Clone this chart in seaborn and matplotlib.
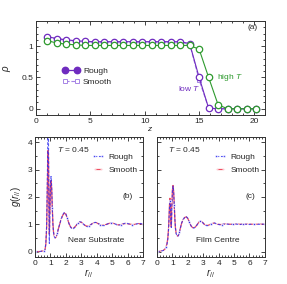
import numpy as np
import pandas as pd
import matplotlib
matplotlib.use("Agg")
import matplotlib.pyplot as plt
from matplotlib.ticker import MultipleLocator
from matplotlib.lines import Line2D
import seaborn as sns

# ---------------- data: panel (a) density profiles ----------------
z = [1.05, 1.92, 2.79, 3.66, 4.53, 5.40, 6.27, 7.14, 8.01, 8.88, 9.75, 10.62,
     11.49, 12.36, 13.23, 14.10, 14.97, 15.84, 16.71, 17.58, 18.45, 19.32, 20.19]
rho_lowT_rough = [1.15, 1.12, 1.10, 1.085, 1.075, 1.07, 1.07, 1.07, 1.07, 1.07, 1.07, 1.07,
                  1.07, 1.07, 1.07, 1.04, 0.50, 0.01, 0.0, 0.0, 0.0, 0.0, 0.0]
rho_lowT_smooth = [1.145, 1.115, 1.095, 1.08, 1.07, 1.065, 1.065, 1.07, 1.065, 1.07, 1.065, 1.07,
                   1.065, 1.07, 1.065, 1.035, 0.46, 0.01, 0.0, 0.0, 0.0, 0.0, 0.0]
rho_highT = [1.085, 1.05, 1.03, 1.02, 1.01, 1.01, 1.01, 1.01, 1.01, 1.01, 1.01, 1.01,
             1.01, 1.01, 1.01, 1.01, 0.95, 0.50, 0.063, 0.0, 0.0, 0.0, 0.0]

# ---------------- data: panels (b),(c) pair correlation ----------------
r = [0.0, 0.1, 0.2, 0.3, 0.4, 0.5, 0.55, 0.6, 0.65, 0.7, 0.75, 0.78, 0.81, 0.84, 0.87,
     0.9, 0.93, 0.96, 1.0, 1.04, 1.08, 1.12, 1.16, 1.2, 1.25, 1.3, 1.35, 1.4, 1.45, 1.5,
     1.6, 1.7, 1.8, 1.9, 2.0, 2.1, 2.2, 2.3, 2.4, 2.5, 2.6, 2.7, 2.8, 2.9, 3.0, 3.1,
     3.2, 3.3, 3.4, 3.5, 3.6, 3.7, 3.8, 3.9, 4.0, 4.1, 4.2, 4.3, 4.4, 4.5, 4.6, 4.7,
     4.8, 4.9, 5.0, 5.1, 5.2, 5.3, 5.4, 5.5, 5.6, 5.7, 5.8, 5.9, 6.0, 6.1, 6.2, 6.3,
     6.4, 6.5, 6.6, 6.7, 6.8, 6.9, 7.0]

g_sub_rough = [0, 0, 0, 0, 0.01, 0.03, 0.02, 0.03, 0.08, 0.3, 0.9, 1.9, 3.1, 4.5, 4.4,
               1.8, 0.3, 1.3, 2.5, 2.75, 2.4, 1.6, 1.0, 0.7, 0.55, 0.5, 0.52, 0.58, 0.68, 0.8,
               1.0, 1.2, 1.35, 1.43, 1.38, 1.22, 1.03, 0.9, 0.83, 0.84, 0.9, 0.98, 1.05, 1.09, 1.08, 1.03,
               0.97, 0.93, 0.91, 0.93, 0.97, 1.02, 1.05, 1.07, 1.06, 1.03, 0.99, 0.96, 0.95, 0.95, 0.98, 1.01,
               1.04, 1.06, 1.06, 1.04, 1.01, 0.98, 0.97, 0.97, 0.99, 1.01, 1.03, 1.04, 1.03, 1.01, 0.99, 0.98,
               0.98, 0.99, 1.01, 1.03, 1.03, 1.02, 1.0]
g_sub_smooth = [0, 0, 0, 0, 0.01, 0.02, 0.02, 0.03, 0.07, 0.25, 0.8, 1.6, 2.6, 3.7, 3.5,
                1.8, 0.65, 1.3, 2.35, 2.6, 2.3, 1.6, 1.05, 0.72, 0.56, 0.5, 0.52, 0.58, 0.68, 0.8,
                1.0, 1.19, 1.33, 1.41, 1.37, 1.21, 1.03, 0.91, 0.85, 0.86, 0.91, 0.98, 1.04, 1.08, 1.07, 1.03,
                0.98, 0.94, 0.93, 0.94, 0.98, 1.02, 1.04, 1.06, 1.05, 1.02, 0.99, 0.97, 0.96, 0.97, 0.99, 1.01,
                1.03, 1.04, 1.04, 1.03, 1.01, 0.99, 0.98, 0.98, 0.99, 1.01, 1.02, 1.03, 1.02, 1.01, 1.0, 0.99,
                0.99, 1.0, 1.01, 1.02, 1.02, 1.01, 1.0]
g_cen_rough = [0.0, 0.0, 0.01, 0.02, 0.04, 0.08, 0.12, 0.18, 0.28, 0.45, 0.8, 1.2, 1.6, 1.88, 1.85,
               1.2, 0.88, 1.5, 2.2, 2.4, 2.2, 1.7, 1.2, 0.85, 0.65, 0.58, 0.56, 0.6, 0.7, 0.82,
               1.05, 1.18, 1.26, 1.28, 1.22, 1.08, 0.95, 0.87, 0.86, 0.9, 0.98, 1.07, 1.12, 1.1, 1.04, 0.98,
               0.95, 0.95, 0.97, 1.01, 1.04, 1.05, 1.03, 1.01, 0.99, 0.98, 0.99, 1.0, 1.01, 1.01, 1.0, 1.0,
               0.99, 1.0, 1.0, 1.01, 1.0, 1.0, 0.99, 1.0, 1.01, 1.0, 1.0, 1.0, 0.99, 1.0, 1.01, 1.0,
               1.0, 0.99, 1.0, 1.0, 1.01, 1.0, 1.0]
g_cen_smooth = [0.0, 0.0, 0.01, 0.02, 0.04, 0.08, 0.12, 0.19, 0.3, 0.48, 0.85, 1.25, 1.7, 1.95, 1.8,
                1.1, 0.9, 1.55, 2.25, 2.42, 2.2, 1.7, 1.18, 0.84, 0.65, 0.58, 0.57, 0.61, 0.7, 0.82,
                1.04, 1.17, 1.25, 1.27, 1.21, 1.08, 0.95, 0.88, 0.87, 0.91, 0.98, 1.06, 1.11, 1.1, 1.04, 0.98,
                0.96, 0.96, 0.98, 1.01, 1.03, 1.04, 1.03, 1.01, 1.0, 0.99, 0.99, 1.0, 1.0, 1.01, 1.0, 1.0,
                1.0, 1.0, 1.0, 1.0, 1.0, 1.0, 1.0, 1.0, 1.0, 1.0, 1.0, 1.0, 1.0, 1.0, 1.0, 1.0,
                1.0, 1.0, 1.0, 1.0, 1.0, 1.0, 1.0]

# ---------------- styling ----------------
sns.set_style("ticks")
plt.rcParams['font.family'] = ['Liberation Sans', 'DejaVu Sans']
plt.rcParams['mathtext.fontset'] = 'custom'
plt.rcParams['mathtext.it'] = 'Liberation Sans:italic'
plt.rcParams['mathtext.rm'] = 'Liberation Sans'
plt.rcParams['font.size'] = 6

PURPLE = '#6f2bbf'
LPURPLE = '#a784e6'
GREEN = '#2e9a2e'
BLUE = '#2b2bf0'
RED = '#ee3048'
FS = 6

fig = plt.figure(figsize=(2.87, 2.84), dpi=100)
axa = fig.add_axes([0.125, 0.595, 0.798, 0.331])
axb = fig.add_axes([0.122, 0.095, 0.376, 0.423])
axc = fig.add_axes([0.547, 0.095, 0.376, 0.423])


def style_axis(ax):
    ax.tick_params(which='both', direction='in', top=True, right=True,
                   labelsize=FS, width=0.6, pad=2)
    ax.tick_params(which='major', length=3)
    ax.tick_params(which='minor', length=1.6)
    for s in ax.spines.values():
        s.set_linewidth(0.7)
        s.set_color('#333333')


# ---- panel (a)
dfa = pd.DataFrame({'z': z, 'low_r': rho_lowT_rough, 'low_s': rho_lowT_smooth, 'high': rho_highT})
sns.lineplot(data=dfa, x='z', y='low_s', ax=axa, color=LPURPLE, lw=0.8, linestyle='--',
             marker='s', ms=3, mfc='white', mec=LPURPLE, mew=0.7)
sns.lineplot(data=dfa, x='z', y='low_r', ax=axa, color=PURPLE, lw=0.8,
             marker='o', ms=4.6, mfc='white', mec=PURPLE, mew=0.9)
sns.lineplot(data=dfa, x='z', y='high', ax=axa, color=GREEN, lw=0.8,
             marker='o', ms=4.6, mfc='white', mec=GREEN, mew=0.9)
axa.set_xlim(0, 21)
axa.set_ylim(-0.1, 1.4)
axa.xaxis.set_major_locator(MultipleLocator(5))
axa.xaxis.set_minor_locator(MultipleLocator(1))
axa.yaxis.set_major_locator(MultipleLocator(0.5))
axa.yaxis.set_minor_locator(MultipleLocator(0.1))
axa.set_yticks([0, 0.5, 1])
axa.set_yticklabels(['0', '0.5', '1'])
axa.set_xlabel(r'$z$', fontsize=FS, labelpad=0)
axa.set_ylabel(r'$\rho$', fontsize=FS + 1, labelpad=6)
style_axis(axa)
axa.text(20.3, 1.3, '(a)', fontsize=FS, ha='right', va='center')
axa.text(13.0, 0.32, r'low $T$', fontsize=FS, color=PURPLE, ha='left', va='center')
axa.text(16.6, 0.50, r'high $T$', fontsize=FS, color=GREEN, ha='left', va='center')
hr = Line2D([], [], color=PURPLE, lw=0.9, marker='o', ms=4.6, mfc=PURPLE, mec=PURPLE)
hs = Line2D([], [], color=LPURPLE, lw=0.8, ls='--', marker='s', ms=3, mfc='white', mec=LPURPLE, mew=0.7)
axa.legend([hr, hs], ['Rough', 'Smooth'], loc='center left', bbox_to_anchor=(0.1, 0.41),
           frameon=False, fontsize=FS, handlelength=2.0, handletextpad=0.4,
           labelspacing=0.3, numpoints=2, borderpad=0)

# ---- panels (b), (c)
for ax, gr, gs, lab, title in [(axb, g_sub_rough, g_sub_smooth, '(b)', 'Near Substrate'),
                               (axc, g_cen_rough, g_cen_smooth, '(c)', 'Film Centre')]:
    dfg = pd.DataFrame({'r': r, 'rough': gr, 'smooth': gs})
    sns.lineplot(data=dfg, x='r', y='smooth', ax=ax, color=RED, lw=0.9, alpha=0.85,
                 marker='+', ms=2.5, mew=0.6, markevery=(3, 7), label='Smooth')
    sns.lineplot(data=dfg, x='r', y='rough', ax=ax, color=BLUE, lw=0.8, linestyle=(0, (2.5, 1.5)),
                 alpha=0.8, marker='o', ms=1.8, markevery=(0, 7), label='Rough')
    ax.set_xlim(0, 7)
    ax.set_ylim(-0.2, 4.2)
    ax.xaxis.set_major_locator(MultipleLocator(1))
    ax.xaxis.set_minor_locator(MultipleLocator(0.2))
    ax.yaxis.set_major_locator(MultipleLocator(1))
    ax.yaxis.set_minor_locator(MultipleLocator(0.5))
    ax.set_xlabel(r'$r_{//}$', fontsize=FS + 1, labelpad=0)
    style_axis(ax)
    ax.text(0.7 if ax is axc else 1.4, 3.75, r'$T$ = 0.45', fontsize=FS, ha='left', va='center')
    ax.text(6.35, 2.0, lab, fontsize=FS, ha='right', va='center')
    ax.text(5.8 if ax is axb else 5.35, 0.42, title, fontsize=FS, ha='right', va='center')
    h, l = ax.get_legend_handles_labels()
    order = [l.index('Rough'), l.index('Smooth')]
    ax.legend([h[i] for i in order], ['Rough', 'Smooth'], loc='upper right',
              bbox_to_anchor=(0.99, 0.9), frameon=False, fontsize=FS,
              handlelength=1.6, handletextpad=0.5, labelspacing=0.6, borderpad=0,
              markerscale=1.0, numpoints=2)

axb.set_ylabel(r'$g(r_{//})$', fontsize=FS + 1, labelpad=3)
axc.set_ylabel('')
axc.set_yticklabels([])

fig.savefig('out.png', dpi=100)
